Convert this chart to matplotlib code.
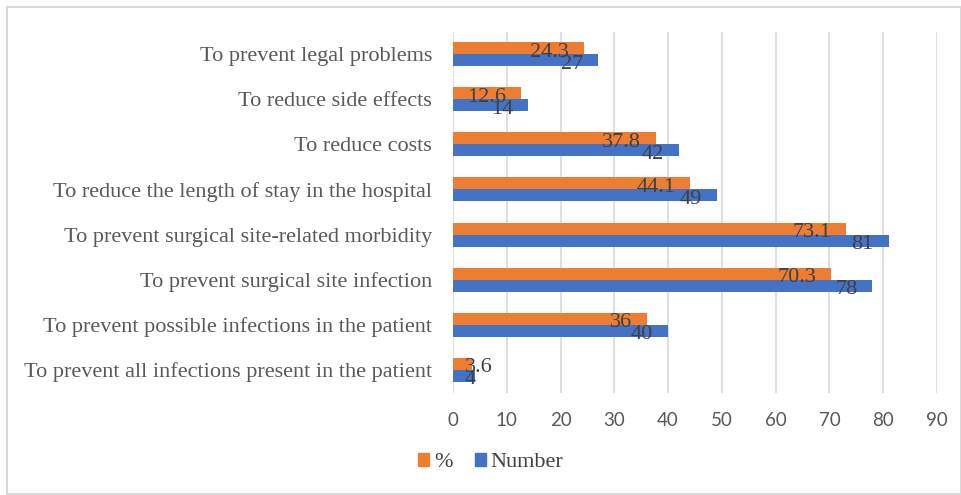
import matplotlib
matplotlib.use("Agg")
import matplotlib.pyplot as plt
import matplotlib.transforms as mtransforms
from matplotlib.patches import Patch, Rectangle
import numpy as np

categories = [
    "To prevent all infections present in the patient",
    "To prevent possible infections in the patient",
    "To prevent surgical site infection",
    "To prevent surgical site-related morbidity",
    "To reduce the length of stay in the hospital",
    "To reduce costs",
    "To reduce side effects",
    "To prevent legal problems",
]
percent = [3.6, 36, 70.3, 73.1, 44.1, 37.8, 12.6, 24.3]
number = [4, 40, 78, 81, 49, 42, 14, 27]
percent_labels = ["3.6", "36", "70.3", "73.1", "44.1", "37.8", "12.6", "24.3"]
number_labels = ["4", "40", "78", "81", "49", "42", "14", "27"]
xticks = [0, 10, 20, 30, 40, 50, 60, 70, 80, 90]

ORANGE = "#ED7D31"
BLUE = "#4472C4"
SERIF = ["Liberation Serif", "DejaVu Serif"]

fig = plt.figure(figsize=(9.62, 4.95), dpi=100)
ax = fig.add_axes([453 / 962, 1 - 392.5 / 495, (937 - 453) / 962, (392.5 - 31.5) / 495])

y = np.arange(len(categories))
h = 0.266
ax.barh(y + h / 2, percent, height=h, color=ORANGE, zorder=3)
ax.barh(y - h / 2, number, height=h, color=BLUE, zorder=3)

ax.set_xlim(0, 90)
ax.set_ylim(-0.5, len(categories) - 0.5)
ax.set_xticks(xticks)
ax.set_xticklabels([str(t) for t in xticks], fontfamily="Lato", fontsize=13.5, color="#595959")
ax.set_yticks(y)
ax.set_yticklabels(categories, fontfamily=SERIF, fontsize=16, color="#595959")
ax.tick_params(axis="both", length=0)
ax.tick_params(axis="x", pad=14)
ax.tick_params(axis="y", pad=15)
ax.grid(axis="x", color="#D9D9D9", linewidth=1.2, zorder=0)
for s in ax.spines.values():
    s.set_visible(False)

# value labels: inside end, clamped to a minimum left position
renderer = fig.canvas.get_renderer()
def add_label(val, yy, txt):
    t = ax.text(val, yy, txt, ha="right", va="center", fontfamily=SERIF, fontsize=16,
                color="#404040", zorder=4,
                transform=mtransforms.offset_copy(ax.transData, fig=fig, x=-15, y=-4, units="dots"))
    bb = t.get_window_extent(renderer=renderer)
    x0 = ax.transData.transform((0, 0))[0]
    if bb.x0 < x0 + 12:
        t.set_ha("left")
        t.set_x(0)
        t.set_transform(mtransforms.offset_copy(ax.transData, fig=fig, x=12, y=-4, units="dots"))

for i in range(len(categories)):
    add_label(percent[i], y[i] + h / 2, percent_labels[i])
    add_label(number[i], y[i] - h / 2, number_labels[i])

handles = [Patch(color=ORANGE, label="%"), Patch(color=BLUE, label="Number")]
fig.legend(handles=handles, loc="center", bbox_to_anchor=(0.51, 0.065), ncol=2,
           frameon=False, prop={"family": SERIF, "size": 16}, handlelength=0.5,
           handleheight=0.5, handletextpad=0.2, columnspacing=1.0, labelcolor="#404040")

fig.patches.append(Rectangle((7 / 962, 1 / 495), 1 - 8 / 962, 1 - 8 / 495, transform=fig.transFigure,
                             fill=False, edgecolor="#D9D9D9", linewidth=1.5))

fig.savefig("out.png", dpi=100)
